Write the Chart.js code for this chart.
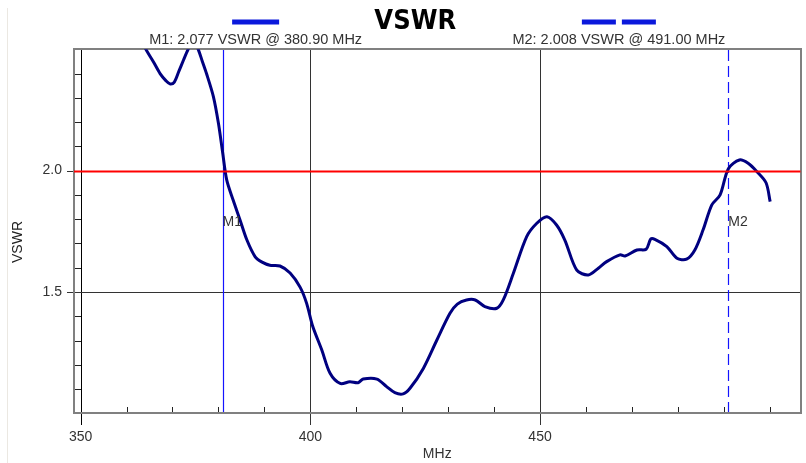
<!DOCTYPE html>
<html><head><meta charset="utf-8">
<script src="https://cdn.jsdelivr.net/npm/chart.js@4"></script>
<style>
html,body{margin:0;padding:0;background:#fff;}
#wrap{position:relative;width:806px;height:463px;overflow:hidden;}
#edge{position:absolute;left:7px;top:8px;width:1px;height:455px;background:#ebe8e2;}
</style></head><body>
<div id="wrap"><div id="edge"></div><canvas id="c" width="806" height="463"></canvas></div>
<script>
// ---- data ----
const freqMHz = [362.0,364.2,365.8,367.3,368.6,369.5,370.4,371.4,372.4,373.4,374.5,375.6,376.5,377.4,378.9,380.0,380.9,381.8,383.2,384.7,386.2,388.0,389.5,391.2,393.4,395.6,397.8,399.2,400.5,402.5,404.3,406.5,408.6,410.4,411.5,414.5,416.6,418.4,420.2,421.7,424.6,427.5,430.4,432.0,434.0,435.9,438.0,440.6,442.0,444.2,447.1,449.3,451.5,453.6,455.4,458.0,460.5,462.7,464.5,467.4,468.5,471.1,473.1,474.1,475.0,477.6,479.8,481.9,483.7,485.5,487.4,489.2,491.0,493.4,495.3,497.2,499.2,500.1];
const vswr    = [2.58,2.50,2.45,2.40,2.37,2.357,2.365,2.41,2.456,2.50,2.54,2.50,2.45,2.40,2.305,2.195,2.077,1.962,1.879,1.797,1.714,1.645,1.623,1.61,1.607,1.578,1.519,1.453,1.36,1.261,1.165,1.123,1.13,1.126,1.141,1.141,1.11,1.085,1.08,1.103,1.185,1.30,1.412,1.45,1.467,1.467,1.44,1.433,1.467,1.577,1.728,1.783,1.81,1.776,1.714,1.59,1.57,1.598,1.625,1.653,1.648,1.673,1.676,1.718,1.717,1.687,1.639,1.635,1.673,1.756,1.859,1.90,2.008,2.044,2.03,1.996,1.95,1.872];
const xLabelTicks = [350, 400, 450];
const xMinorTicks = [360,370,380,390,410,420,430,440,460,470,480,490,500];
const yLabelTicks = [1.5, 2.0];
const yMinorTicks = [1.0,1.1,1.2,1.3,1.4,1.6,1.7,1.8,1.9,2.1,2.2,2.3,2.4,2.5];
const markerNames  = ['M1', 'M2'];
const markerFreqs  = [380.90, 491.00];
const markerValues = [2.077, 2.008];
const limitValue = 2.0;
const yAxisTitle = 'VSWR';

const FONT = "'Liberation Sans', Arial, sans-serif";
const points = freqMHz.map((f, i) => ({x: f, y: vswr[i]}));

const framePlugin = {
  id: 'frame',
  beforeDatasetsDraw(chart) {
    const {ctx, chartArea: a, scales: {x, y}} = chart;
    const L = Math.round(a.left), R = Math.round(a.right), T = Math.round(a.top), B = Math.round(a.bottom);
    ctx.save();
    ctx.lineWidth = 1;
    xLabelTicks.forEach((v, i) => {
      const px = Math.round(x.getPixelForValue(v)) + 0.5;
      ctx.strokeStyle = i === 0 ? '#000' : '#333';
      ctx.beginPath(); ctx.moveTo(px, T); ctx.lineTo(px, B + 12); ctx.stroke();
    });
    yLabelTicks.forEach(v => {
      const py = Math.round(y.getPixelForValue(v)) + 0.5;
      ctx.strokeStyle = '#333';
      ctx.beginPath(); ctx.moveTo(L - 7, py); ctx.lineTo(R, py); ctx.stroke();
    });
    ctx.strokeStyle = '#222';
    xMinorTicks.forEach(v => {
      const px = Math.round(x.getPixelForValue(v)) + 0.5;
      ctx.beginPath(); ctx.moveTo(px, B); ctx.lineTo(px, B - 6); ctx.stroke();
    });
    const ax = Math.round(x.getPixelForValue(xLabelTicks[0]));
    yMinorTicks.forEach(v => {
      const py = Math.round(y.getPixelForValue(v)) + 0.5;
      ctx.beginPath(); ctx.moveTo(L, py); ctx.lineTo(ax, py); ctx.stroke();
    });
    ctx.strokeStyle = '#808080'; ctx.lineWidth = 2;
    ctx.strokeRect(L, T, R - L, B - T);
    // marker lines
    markerFreqs.forEach((f, i) => {
      const px = Math.round(x.getPixelForValue(f)) + 0.5;
      ctx.strokeStyle = 'rgb(20,20,255)'; ctx.lineWidth = 1.2;
      ctx.setLineDash(i === 0 ? [] : [11, 5]);
      ctx.beginPath(); ctx.moveTo(px, T + 1); ctx.lineTo(px, B - 1); ctx.stroke();
    });
    ctx.setLineDash([]);
    // y axis title (rotated)
    ctx.font = '14px ' + FONT; ctx.fillStyle = '#222';
    ctx.textAlign = 'center'; ctx.textBaseline = 'middle';
    ctx.translate(18, 242); ctx.rotate(-Math.PI / 2);
    ctx.fillText(yAxisTitle, 0, 0);
    ctx.restore();
  },
  afterDatasetsDraw(chart) {
    const {ctx, chartArea: a, scales: {x, y}} = chart;
    ctx.save();
    const py = Math.round(y.getPixelForValue(limitValue)) + 0.5;
    ctx.strokeStyle = '#ff0000'; ctx.lineWidth = 2;
    ctx.beginPath(); ctx.moveTo(a.left, py); ctx.lineTo(a.right, py); ctx.stroke();
    ctx.font = '14px ' + FONT; ctx.fillStyle = '#333';
    ctx.textAlign = 'left'; ctx.textBaseline = 'middle';
    markerFreqs.forEach((f, i) => {
      const px = x.getPixelForValue(f);
      ctx.fillText(markerNames[i], px, a.top + 0.475 * (a.bottom - a.top));
    });
    markerFreqs.forEach((f, i) => {
      const cx = a.left + (a.right - a.left) * (i === 0 ? 0.25 : 0.75);
      ctx.fillStyle = '#333'; ctx.textAlign = 'center';
      ctx.font = '14.5px ' + FONT;
      ctx.fillText(`${markerNames[i]}: ${markerValues[i].toFixed(3)} VSWR @ ${f.toFixed(2)} MHz`, cx, 39.5);
      ctx.strokeStyle = '#0a18dc'; ctx.lineWidth = 5;
      ctx.beginPath();
      if (i === 0) { ctx.setLineDash([]); ctx.moveTo(cx - 23.5, 22); ctx.lineTo(cx + 23.5, 22); }
      else { ctx.setLineDash([34, 6]); ctx.moveTo(cx - 37, 22); ctx.lineTo(cx + 37, 22); }
      ctx.stroke();
      ctx.setLineDash([]);
    });
    ctx.restore();
  }
};

new Chart(document.getElementById('c'), {
  type: 'line',
  data: { datasets: [{
    label: 'VSWR', data: points, borderColor: '#000080', borderWidth: 3,
    pointRadius: 0, tension: 0.3, fill: false, clip: 0
  }]},
  options: {
    responsive: false, animation: false, devicePixelRatio: 1,
    layout: { padding: { left: 30, right: 5.5, top: 0, bottom: 0 } },
    plugins: {
      legend: { display: false }, tooltip: { enabled: false },
      title: { display: true, text: 'VSWR', color: '#000',
        font: { family: "'Liberation Sans Narrow', 'DejaVu Sans Condensed', Arial, sans-serif", size: 27, weight: 'bold', lineHeight: 1.2 },
        padding: { top: 5.5, bottom: 11.4 } }
    },
    scales: {
      x: {
        type: 'linear', min: 348.56, max: 506.7,
        afterBuildTicks: s => { s.ticks = xLabelTicks.map(v => ({ value: v })); },
        afterFit: s => { s.height = 49.7; },
        grid: { display: false, drawTicks: false }, border: { display: false },
        ticks: { autoSkip: false, maxRotation: 0, padding: 15.3, color: '#333',
          font: { family: FONT, size: 14 }, callback: v => String(v) },
        title: { display: true, text: 'MHz', color: '#333', font: { family: FONT, size: 14 }, padding: { top: 0, bottom: 0 } }
      },
      y: {
        min: 1.0, max: 2.5,
        afterBuildTicks: s => { s.ticks = yLabelTicks.map(v => ({ value: v })); },
        afterFit: s => { s.width = 44; },
        grid: { display: false, drawTicks: false }, border: { display: false },
        ticks: { autoSkip: false, padding: 12, color: '#333',
          font: { family: FONT, size: 14 }, callback: v => Number(v).toFixed(1) },
        title: { display: false, text: yAxisTitle }
      }
    }
  },
  plugins: [framePlugin]
});
</script>
</body></html>
